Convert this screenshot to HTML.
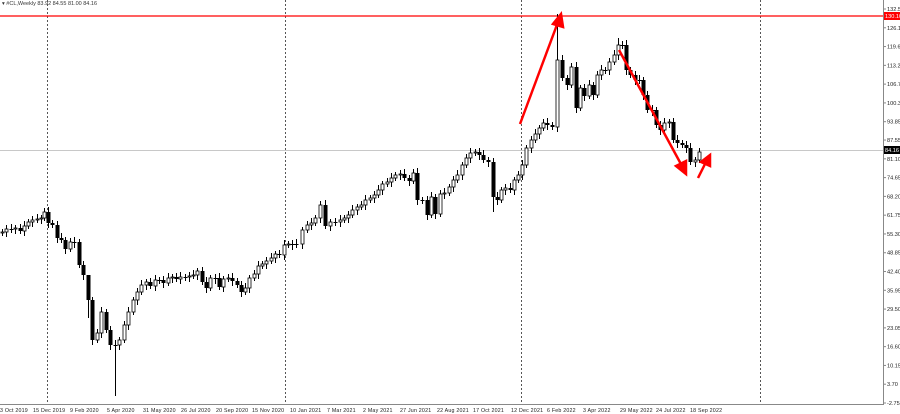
<!DOCTYPE html><html><head><style>
body{margin:0;background:#fff;}
svg{display:block;font-family:"Liberation Sans",sans-serif;}
</style></head><body>
<svg id="s" width="900" height="414" xmlns="http://www.w3.org/2000/svg">
<rect width="900" height="414" fill="#fff"/>
<text x="2" y="5" font-size="5.5" fill="#333">▾ #CL,Weekly  83.92 84.55 81.00 84.16</text>
<g stroke="#555" stroke-width="1" stroke-dasharray="2,2">
<line x1="47.5" y1="0" x2="47.5" y2="404"/><line x1="285.5" y1="0" x2="285.5" y2="404"/>
<line x1="521.5" y1="0" x2="521.5" y2="404"/><line x1="760.5" y1="0" x2="760.5" y2="404"/>
</g>
<line x1="0" y1="150.5" x2="883" y2="150.5" stroke="#c8c8c8"/>
<line x1="0" y1="16" x2="883" y2="16" stroke="#f00" stroke-width="1.3"/>
<line x1="883.5" y1="0" x2="883.5" y2="404" stroke="#888"/>
<line x1="0" y1="404.5" x2="884" y2="404.5" stroke="#888"/>
<g id="c"></g>
<g id="ax" font-size="5.6" fill="#222"></g>
<g stroke="#f00" stroke-width="2.5" fill="#f00">
<line x1="520" y1="124" x2="558" y2="22"/><polygon points="561,14 553,24 563,27"/>
<line x1="619" y1="50" x2="682" y2="166"/><polygon points="686,174 676,166 686,161"/>
<line x1="698" y1="178" x2="706" y2="162"/><polygon points="710,155 701,162 710,166"/>
</g>
<rect x="884" y="12" width="16" height="8" fill="#f00"/><text x="885" y="18" font-size="5.6" fill="#fff">130.10</text>
<rect x="884" y="146" width="16" height="8" fill="#000"/><text x="885" y="152" font-size="5.6" fill="#fff">84.16</text>
<g font-size="5.3" fill="#222" id="bx"></g>
</svg>
<script>
var d=[[2,232],[6,229],[11,229],[15,228],[20,231],[24,226],[28,222],[32,220],[37,219],[41,218],[44,212],[48,223],[52,225],[57,238],[61,240],[65,249],[70,242],[74,242],[79,265],[83,275],[88,300],[92,340],[97,333],[101,312],[106,330],[110,345],[115,345],[119,340],[124,325],[128,312],[133,300],[137,292],[141,285],[146,282],[150,286],[155,280],[159,280],[163,283],[168,278],[172,277],[176,279],[180,277],[185,277],[189,276],[193,275],[197,271],[202,282],[206,288],[210,278],[215,278],[219,287],[223,279],[228,278],[232,281],[237,285],[241,292],[245,288],[249,278],[254,274],[258,266],[262,264],[266,261],[271,258],[275,254],[279,255],[284,245],[288,244],[292,244],[296,244],[302,230],[307,225],[311,223],[315,218],[320,205],[325,226],[330,222],[335,222],[340,220],[344,218],[348,215],[352,210],[357,207],[361,205],[365,200],[370,198],[374,195],[378,190],[382,184],[387,182],[391,178],[395,175],[400,174],[404,178],[409,181],[413,173],[417,200],[422,200],[427,215],[431,197],[435,214],[440,194],[444,193],[449,187],[453,180],[457,175],[462,165],[466,158],[470,153],[475,152],[479,155],[483,160],[488,162],[493,197],[497,200],[501,190],[505,188],[510,190],[514,180],[518,175],[522,165],[526,148],[531,140],[535,134],[539,128],[543,123],[547,125],[552,127],[557,60],[562,78],[567,85],[571,67],[576,108],[580,88],[584,96],[589,85],[593,95],[597,75],[601,70],[605,70],[609,62],[614,55],[618,45],[622,45],[626,70],[630,75],[635,80],[639,80],[643,95],[647,110],[652,110],[656,125],[660,130],[664,123],[669,122],[673,140],[677,143],[682,145],[686,148],[690,162],[695,160],[699,152]];
var g=document.getElementById('c'),h='',p=233;
d.forEach(function(e,i){var x=e[0],c=e[1],o=p;p=c;var t=Math.min(o,c),b=Math.max(o,c);if(b-t<1)b=t+1;
var hi=t-3-(i%3),lo=b+3+(i%2)*2;if(x==115)lo=396;if(x==88){hi=292;lo=318;}if(x==557)hi=14;if(x==618)hi=38;if(x==493)lo=212;
h+='<line x1="'+(x+.5)+'" y1="'+hi+'" x2="'+(x+.5)+'" y2="'+lo+'" stroke="#000"/>';
if(c<o)h+='<rect x="'+(x-1)+'" y="'+t+'" width="3" height="'+(b-t)+'" fill="#fff" stroke="#000" stroke-width="0.8"/>';
else h+='<rect x="'+(x-1.5)+'" y="'+t+'" width="4" height="'+(b-t)+'" fill="#000"/>';});
g.innerHTML=h;
var ax='',v=[132.55,126.10,119.65,113.20,106.75,100.30,93.85,87.55,81.10,74.65,68.20,61.75,55.30,48.85,42.40,35.95,29.50,23.05,16.60,10.15,3.70,-2.75];
v.forEach(function(p){var y=9+(132.55-p)*2.912;ax+='<line x1="883" y1="'+y+'" x2="886" y2="'+y+'" stroke="#888"/><text x="887" y="'+(y+2)+'">'+p.toFixed(2)+'</text>';});
document.getElementById('ax').innerHTML=ax;
var L=[[0,"3 Oct 2019"],[33,"15 Dec 2019"],[70,"9 Feb 2020"],[107,"5 Apr 2020"],[143,"31 May 2020"],[181,"26 Jul 2020"],[216,"20 Sep 2020"],[252,"15 Nov 2020"],[290,"10 Jan 2021"],[327,"7 Mar 2021"],[363,"2 May 2021"],[400,"27 Jun 2021"],[437,"22 Aug 2021"],[473,"17 Oct 2021"],[511,"12 Dec 2021"],[547,"6 Feb 2022"],[583,"3 Apr 2022"],[620,"29 May 2022"],[656,"24 Jul 2022"],[690,"18 Sep 2022"]],bx='';
L.forEach(function(l){bx+='<text x="'+l[0]+'" y="412" letter-spacing="0.2">'+l[1]+'</text>';});
document.getElementById('bx').innerHTML=bx;
</script>
</body></html>
